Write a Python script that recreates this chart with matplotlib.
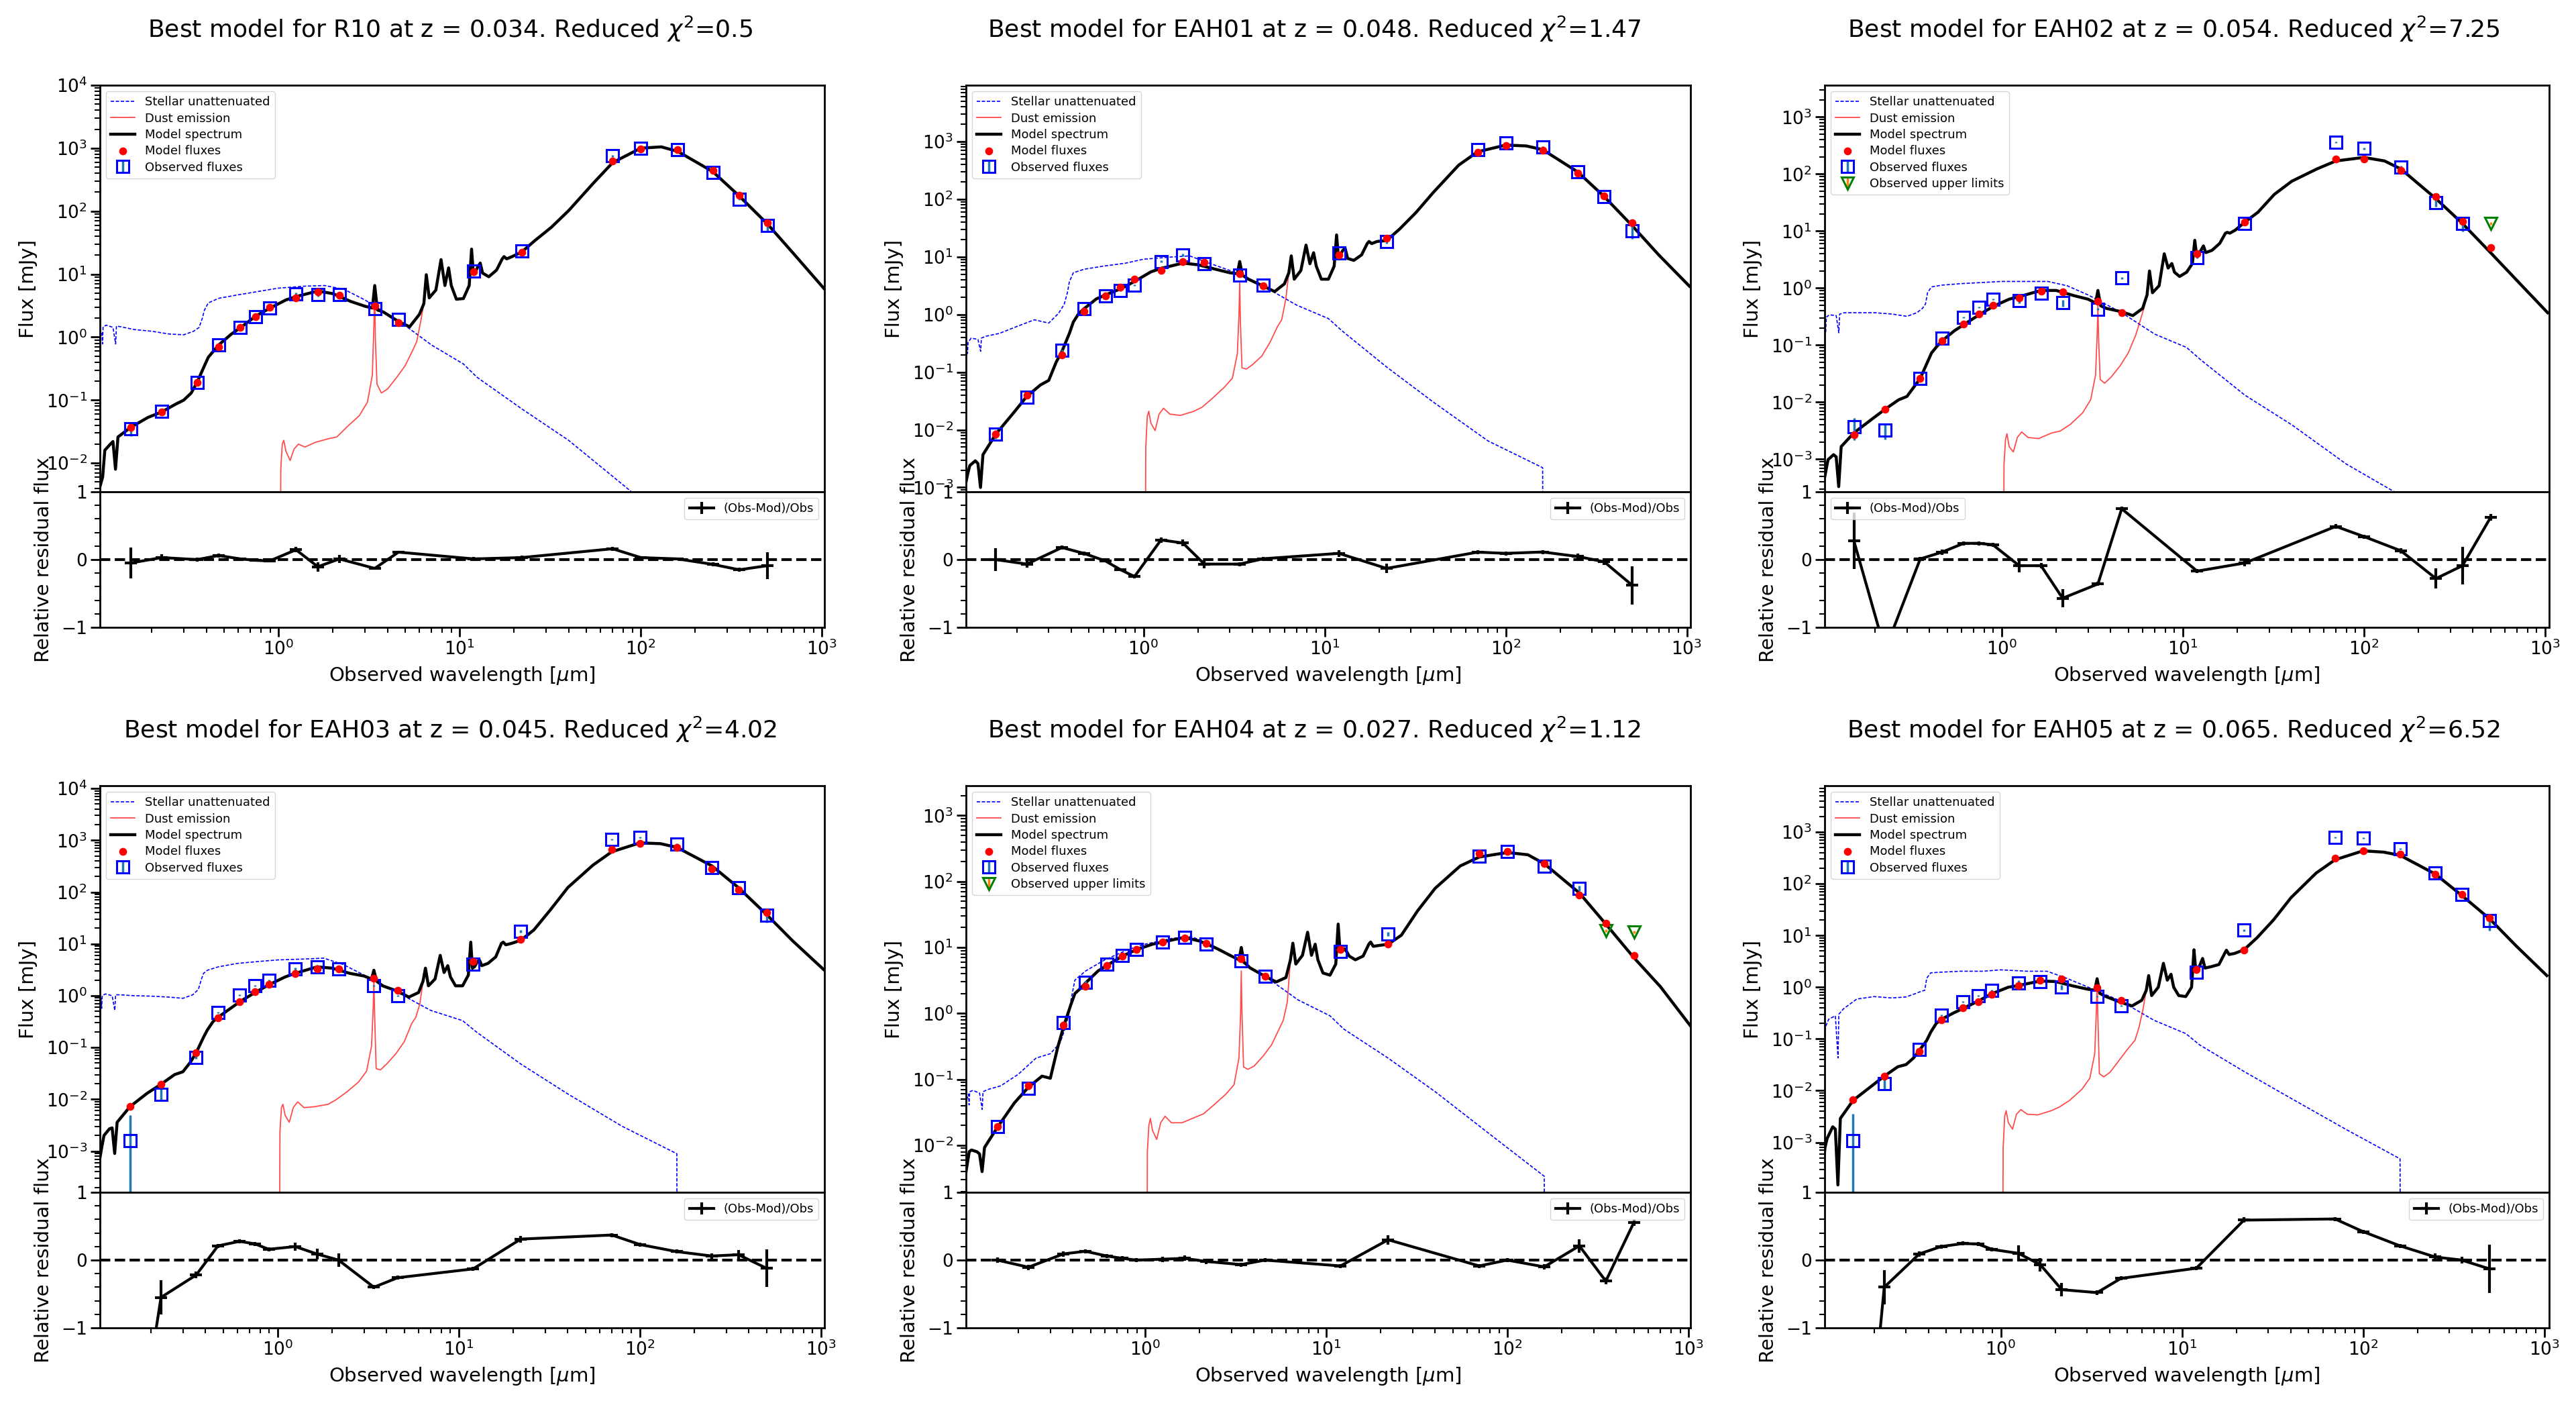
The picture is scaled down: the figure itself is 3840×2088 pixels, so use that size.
import numpy as np
import matplotlib.pyplot as plt
from matplotlib.ticker import AutoMinorLocator

# observed-frame filter wavelengths (micron)
FILTER_WL = [0.1528, 0.2271, 0.3551, 0.4686, 0.6166, 0.7480, 0.8932, 1.25, 1.65, 2.17,
             3.4, 4.6, 12.0, 22.0, 70.0, 100.0, 160.0, 250.0, 350.0, 500.0]

# wavelength grids of the model curves (micron)
MODEL_WL = [0.100, 0.107, 0.110, 0.118, 0.122, 0.126, 0.130, 0.153, 0.19, 0.227,
            0.27, 0.30, 0.33, 0.355, 0.39, 0.41, 0.44, 0.47, 0.55, 0.62,
            0.75, 0.90, 1.10, 1.25, 1.65, 2.0, 2.5, 3.0, 3.30, 3.40,
            3.52, 3.8, 4.6, 5.3, 6.0, 6.35, 6.55, 6.8, 7.4, 7.9,
            8.3, 8.7, 9.0, 9.6, 10.5, 11.3, 11.65, 11.9, 12.2, 12.6,
            13.0, 13.4, 14.5, 16.0, 17.2, 17.6, 18.2, 19.5, 22, 26,
            32, 40, 55, 70, 100, 130, 160, 250, 350, 500, 700, 1034]
STELLAR_WL = [0.100, 0.106, 0.1068, 0.1076, 0.112, 0.122, 0.1262, 0.1275, 0.135, 0.16,
              0.2, 0.25, 0.3, 0.34, 0.365, 0.38, 0.39, 0.41, 0.47, 0.6,
              0.8, 1.0, 1.4, 1.8, 2.3, 3.0, 4.6, 7.0, 10.5, 12.5,
              22, 40, 80, 160, 162]
DUST_WL = [1.02, 1.03, 1.05, 1.07, 1.10, 1.16, 1.22, 1.29, 1.40, 1.6,
           1.9, 2.1, 2.4, 2.8, 3.1, 3.3, 3.37, 3.40, 3.43, 3.5,
           3.7, 4.0, 4.5, 5.0, 5.5, 5.8, 6.1]
DUST_TAIL_START = 6.35  # beyond this the dust emission follows the model spectrum

NAMES = ['R10', 'EAH01', 'EAH02', 'EAH03', 'EAH04', 'EAH05']
REDSHIFTS = [0.034, 0.048, 0.054, 0.045, 0.027, 0.065]
CHI2 = [0.5, 1.47, 7.25, 4.02, 1.12, 6.52]

# ---- R10 ----
R10_OBS = [0.035, 0.067, 0.189, 0.745, 1.43, 2.09, 2.9, 4.9, 4.7, 4.7,
           2.8, 1.92, 11.1, 23.1, 752, 1000, 960, 410, 154, 60]
R10_RES = [-0.05, 0.03, 0.0, 0.06, 0.01, -0.01, -0.02, 0.145, -0.105, 0.01,
           -0.13, 0.11, 0.01, 0.03, 0.16, 0.03, 0.01, -0.07, -0.15, -0.09]
R10_ERR = [0.23, 0.05, 0.03, 0.03, 0.02, 0.02, 0.02, 0.04, 0.07, 0.06,
           0.02, 0.02, 0.03, 0.03, 0.03, 0.02, 0.02, 0.03, 0.03, 0.2]
R10_MODEL = [0.003, 0.006, 0.016, 0.020, 0.022, 0.008, 0.026, 0.037, 0.053, 0.065,
             0.086, 0.10, 0.13, 0.19, 0.35, 0.48, 0.61, 0.76, 1.12, 1.43,
             2.16, 2.9, 3.9, 4.4, 5.4, 4.9, 3.7, 3.1, 2.9, 6.6,
             2.7, 2.5, 1.77, 1.46, 2.3, 3.4, 9.8, 4.2, 5.6, 17,
             6.6, 12.6, 6.6, 4.0, 4.1, 6.6, 25, 10.7, 10.7, 13,
             15, 10.4, 9.1, 11.6, 17.5, 19, 17.5, 19, 22.4, 34,
             55, 102, 282, 590, 1000, 1050, 890, 425, 174, 63, 21, 5.8]
R10_STELLAR = [1.28, 1.18, 0.78, 1.46, 1.55, 1.43, 0.78, 1.5, 1.46, 1.32,
               1.24, 1.12, 1.09, 1.24, 1.43, 2.0, 2.67, 3.5, 4.15, 4.7,
               5.4, 6.0, 6.45, 6.6, 5.75, 3.9, 1.83, 0.75, 0.375, 0.23,
               0.073, 0.023, 0.0045, 0.00088, 1e-12]
R10_DUST = [1e-6, 0.008, 0.02, 0.023, 0.0154, 0.011, 0.0168, 0.02, 0.018, 0.0214,
            0.0245, 0.026, 0.038, 0.057, 0.093, 0.25, 1.77, 6.6, 0.92, 0.18,
            0.13, 0.15, 0.23, 0.35, 0.61, 0.85, 1.77]
R10_UPLIM = []

# ---- EAH01 ----
EAH01_OBS = [0.0084, 0.037, 0.24, 1.26, 2.08, 2.6, 3.26, 8.3, 10.8, 7.6,
             4.8, 3.2, 11.8, 18.5, 728, 950, 800, 297, 111, 28.5]
EAH01_RES = [0.0, -0.066, 0.178, 0.092, -0.02, -0.15, -0.25, 0.29, 0.245, -0.066,
             -0.066, 0.013, 0.092, -0.13, 0.11, 0.092, 0.112, 0.046, -0.033, -0.38]
EAH01_ERR = [0.17, 0.05, 0.03, 0.03, 0.02, 0.02, 0.03, 0.04, 0.05, 0.06,
             0.03, 0.03, 0.05, 0.07, 0.03, 0.03, 0.03, 0.04, 0.05, 0.28]
EAH01_MODEL = [0.0006, 0.0017, 0.0024, 0.0029, 0.0026, 0.001, 0.0037, 0.0084, 0.019, 0.038,
               0.06, 0.072, 0.15, 0.23, 0.47, 0.74, 1.05, 1.26, 1.87, 2.2,
               2.8, 3.8, 5.5, 6.3, 7.8, 7.3, 6.1, 5.3, 5.1, 8.3,
               4.8, 4.1, 3.1, 2.5, 3.4, 5.3, 10.4, 4.1, 5.8, 16,
               7.6, 11.8, 6.9, 4.1, 4.1, 6.9, 24, 10.8, 10.8, 12.9,
               14, 9.4, 8.7, 10.8, 17, 18.5, 17, 18.5, 19.2, 30.5,
               59, 133, 390, 665, 870, 840, 725, 297, 111, 34.6, 10.8, 3.1]
EAH01_STELLAR = [0.30, 0.275, 0.21, 0.33, 0.39, 0.37, 0.23, 0.39, 0.42, 0.47,
                 0.62, 0.81, 0.71, 1.05, 1.5, 2.36, 3.7, 5.3, 6.1, 6.9,
                 7.8, 9.1, 9.9, 10.4, 7.8, 5.8, 3.1, 1.46, 0.85, 0.52,
                 0.123, 0.030, 0.0064, 0.0022, 1e-12]
EAH01_DUST = [1e-6, 0.0049, 0.017, 0.021, 0.013, 0.0097, 0.0187, 0.0237, 0.0187, 0.0178,
              0.021, 0.0245, 0.035, 0.055, 0.079, 0.21, 1.05, 3.7, 0.74, 0.119,
              0.113, 0.135, 0.19, 0.33, 0.62, 0.81, 1.8]
EAH01_UPLIM = []

# ---- EAH02 ----
EAH02_OBS = [0.0037, 0.0032, 0.026, 0.133, 0.31, 0.46, 0.64, 0.61, 0.81, 0.55,
             0.43, 1.5, 3.4, 13.6, 362, 280, 134, 31.8, 13.6, 13.6]
EAH02_RES = [0.277, -1.34, 0.01, 0.11, 0.24, 0.24, 0.22, -0.09, -0.09, -0.57,
             -0.36, 0.75, -0.17, -0.05, 0.49, 0.34, 0.13, -0.28, -0.09, 0.62]
EAH02_ERR = [0.42, 0.3, 0.03, 0.04, 0.03, 0.03, 0.03, 0.1, 0.04, 0.13,
             0.03, 0.03, 0.03, 0.05, 0.03, 0.03, 0.04, 0.15, 0.28, 0.05]
EAH02_MODEL = [0.0002, 0.00062, 0.00098, 0.0012, 0.0011, 0.00033, 0.00166, 0.0029, 0.0049, 0.0075,
               0.011, 0.0126, 0.019, 0.026, 0.051, 0.073, 0.096, 0.12, 0.18, 0.23,
               0.34, 0.48, 0.64, 0.71, 0.91, 0.91, 0.74, 0.64, 0.55, 0.91,
               0.49, 0.44, 0.385, 0.33, 0.44, 0.76, 2.0, 0.83, 1.1, 4.0,
               2.25, 2.7, 1.9, 1.6, 1.9, 2.7, 6.9, 3.9, 4.0, 4.6,
               5.5, 4.2, 4.6, 6.1, 9.2, 9.5, 9.2, 10.4, 14.4, 21.4,
               44, 75, 123, 170, 196, 170, 123, 37, 13.6, 4.2, 1.36, 0.37]
EAH02_STELLAR = [0.18, 0.197, 0.165, 0.31, 0.34, 0.33, 0.165, 0.35, 0.37, 0.37,
                 0.37, 0.35, 0.32, 0.37, 0.44, 0.53, 0.84, 1.05, 1.13, 1.2,
                 1.26, 1.31, 1.31, 1.31, 1.1, 0.76, 0.37, 0.156, 0.091, 0.056,
                 0.0133, 0.004, 0.00082, 0.00023, 1e-12]
EAH02_DUST = [1e-7, 0.0008, 0.0022, 0.0028, 0.00166, 0.00134, 0.0024, 0.003, 0.0024, 0.0023,
              0.0029, 0.0031, 0.0041, 0.0065, 0.011, 0.03, 0.165, 0.53, 0.126, 0.025,
              0.0215, 0.027, 0.043, 0.073, 0.15, 0.26, 0.44]
EAH02_UPLIM = [19]

# ---- EAH03 ----
EAH03_OBS = [0.0016, 0.0126, 0.064, 0.47, 1.04, 1.55, 1.96, 3.3, 3.6, 3.3,
             1.55, 1.0, 4.0, 17.5, 1050, 1130, 840, 300, 122, 36]
EAH03_RES = [-3.5, -0.55, -0.22, 0.21, 0.277, 0.24, 0.16, 0.2, 0.09, 0.0,
             -0.40, -0.26, -0.13, 0.31, 0.37, 0.23, 0.125, 0.06, 0.08, -0.12]
EAH03_ERR = [2.06, 0.25, 0.05, 0.03, 0.03, 0.03, 0.03, 0.06, 0.08, 0.1,
             0.03, 0.03, 0.03, 0.05, 0.03, 0.03, 0.03, 0.04, 0.07, 0.28]
EAH03_MODEL = [0.0003, 0.0012, 0.002, 0.0027, 0.0028, 0.0009, 0.0036, 0.0072, 0.013, 0.0195,
               0.030, 0.034, 0.052, 0.079, 0.158, 0.22, 0.316, 0.385, 0.57, 0.77,
               1.15, 1.64, 2.3, 2.7, 3.6, 3.4, 2.7, 2.4, 2.1, 3.1,
               1.9, 1.55, 1.22, 0.94, 1.15, 1.9, 3.4, 1.55, 2.1, 6.0,
               2.8, 3.8, 2.3, 1.55, 1.55, 2.5, 10.8, 3.4, 3.6, 4.35,
               4.9, 3.8, 4.2, 5.6, 10.2, 10.8, 9.6, 10.2, 11.7, 18.6,
               45, 122, 330, 600, 890, 860, 730, 320, 122, 37, 11.3, 3.2]
EAH03_STELLAR = [0.57, 0.89, 0.57, 1.0, 1.08, 1.0, 0.52, 1.04, 1.04, 1.0,
                 0.98, 0.94, 0.89, 1.04, 1.32, 2.1, 2.7, 3.1, 3.6, 4.2,
                 4.6, 4.9, 5.1, 5.3, 4.0, 2.5, 1.15, 0.52, 0.33, 0.2,
                 0.048, 0.0127, 0.003, 0.00089, 1e-12]
EAH03_DUST = [1e-7, 0.0024, 0.0069, 0.008, 0.0049, 0.0036, 0.0069, 0.0089, 0.0069, 0.0072,
              0.008, 0.0098, 0.0137, 0.0216, 0.035, 0.106, 0.57, 2.1, 0.47, 0.039,
              0.037, 0.048, 0.076, 0.129, 0.29, 0.385, 0.7]
EAH03_UPLIM = []

# ---- EAH04 ----
EAH04_OBS = [0.0194, 0.073, 0.73, 2.98, 5.6, 7.6, 9.3, 12.1, 14.2, 11.2,
             6.3, 3.65, 8.6, 16, 243, 283, 172, 79, 17.9, 17.1]
EAH04_RES = [0.0, -0.105, 0.092, 0.13, 0.06, 0.026, 0.0, 0.013, 0.026, -0.02,
             -0.066, 0.0, -0.086, 0.30, -0.086, 0.0, -0.1, 0.21, -0.31, 0.555]
EAH04_ERR = [0.04, 0.04, 0.04, 0.03, 0.03, 0.03, 0.03, 0.04, 0.04, 0.04,
             0.03, 0.03, 0.03, 0.07, 0.03, 0.03, 0.04, 0.1, 0.05, 0.05]
EAH04_MODEL = [0.0025, 0.008, 0.0085, 0.008, 0.0074, 0.004, 0.0093, 0.0187, 0.044, 0.076,
               0.112, 0.104, 0.31, 0.63, 1.37, 2.0, 2.4, 2.9, 4.4, 5.4,
               7.4, 9.3, 11.2, 12.1, 14.2, 12.5, 9.6, 7.4, 6.5, 10,
               6.0, 4.9, 3.65, 3.0, 3.5, 6.5, 11.6, 5.6, 7.6, 17,
               7.6, 11.2, 6.5, 4.1, 3.8, 5.6, 22.6, 9.6, 8.9, 9.6,
               8.6, 7.4, 6.5, 7.4, 11.2, 12.1, 10.4, 10.7, 11.2, 15.3,
               36, 79, 172, 235, 275, 254, 186, 67, 22.6, 7.0, 2.55, 0.63]
EAH04_STELLAR = [0.035, 0.06, 0.041, 0.065, 0.068, 0.062, 0.035, 0.065, 0.07, 0.08,
                 0.12, 0.21, 0.245, 0.36, 0.63, 1.0, 1.6, 3.2, 4.4, 6.5,
                 9.2, 11.2, 13.7, 14.6, 11.2, 7.4, 3.65, 1.6, 0.92, 0.58,
                 0.21, 0.065, 0.0148, 0.0034, 1e-12]
EAH04_DUST = [1e-6, 0.008, 0.02, 0.0256, 0.0168, 0.0123, 0.022, 0.0276, 0.022, 0.022,
              0.0268, 0.03, 0.041, 0.06, 0.083, 0.21, 1.0, 4.4, 1.0, 0.154,
              0.142, 0.159, 0.227, 0.336, 0.58, 0.79, 1.48]
EAH04_UPLIM = [18, 19]

# ---- EAH05 ----
EAH05_OBS = [0.00108, 0.0135, 0.063, 0.29, 0.53, 0.69, 0.87, 1.2, 1.29, 1.0,
             0.66, 0.44, 1.96, 12.7, 790, 760, 480, 161, 62, 19.3]
EAH05_RES = [-5.2, -0.40, 0.092, 0.20, 0.244, 0.238, 0.158, 0.1, -0.066, -0.436,
             -0.48, -0.27, -0.12, 0.59, 0.607, 0.42, 0.21, 0.046, 0.0, -0.13]
EAH05_ERR = [2.3, 0.25, 0.04, 0.03, 0.03, 0.03, 0.03, 0.12, 0.1, 0.1,
             0.03, 0.03, 0.03, 0.04, 0.03, 0.03, 0.03, 0.05, 0.05, 0.36]
EAH05_MODEL = [0.00008, 0.0008, 0.0012, 0.002, 0.0018, 0.00015, 0.0029, 0.0065, 0.0117, 0.019,
               0.029, 0.032, 0.043, 0.06, 0.094, 0.135, 0.2, 0.24, 0.32, 0.39,
               0.54, 0.76, 1.0, 1.08, 1.32, 1.29, 1.06, 0.92, 0.87, 1.46,
               0.76, 0.66, 0.51, 0.435, 0.56, 0.87, 1.68, 0.69, 1.0, 2.9,
               1.37, 1.78, 1.0, 0.69, 0.66, 1.0, 5.3, 2.25, 2.04, 2.75,
               3.6, 2.35, 2.5, 2.75, 4.5, 5.2, 4.3, 4.5, 5.3, 9.1,
               20, 54, 161, 292, 435, 410, 356, 155, 60, 21, 6.3, 1.68]
EAH05_STELLAR = [0.03, 0.094, 0.043, 0.17, 0.24, 0.28, 0.043, 0.30, 0.38, 0.59,
                 0.66, 0.62, 0.65, 0.76, 0.84, 0.87, 1.5, 1.9, 1.96, 2.04,
                 2.04, 2.17, 2.04, 2.04, 1.5, 1.02, 0.54, 0.23, 0.127, 0.077,
                 0.0235, 0.0071, 0.0018, 0.00048, 1e-12]
EAH05_DUST = [1e-7, 0.0008, 0.0032, 0.0041, 0.0024, 0.0018, 0.0035, 0.0043, 0.0035, 0.0034,
              0.0041, 0.0048, 0.0065, 0.0106, 0.0174, 0.052, 0.38, 1.5, 0.31, 0.0213,
              0.0185, 0.0225, 0.0386, 0.063, 0.094, 0.17, 0.38]
EAH05_UPLIM = []

PANELS = [
    (R10_OBS, R10_RES, R10_ERR, R10_MODEL, R10_STELLAR, R10_DUST, R10_UPLIM, 'upper right'),
    (EAH01_OBS, EAH01_RES, EAH01_ERR, EAH01_MODEL, EAH01_STELLAR, EAH01_DUST, EAH01_UPLIM, 'upper right'),
    (EAH02_OBS, EAH02_RES, EAH02_ERR, EAH02_MODEL, EAH02_STELLAR, EAH02_DUST, EAH02_UPLIM, 'upper left'),
    (EAH03_OBS, EAH03_RES, EAH03_ERR, EAH03_MODEL, EAH03_STELLAR, EAH03_DUST, EAH03_UPLIM, 'upper right'),
    (EAH04_OBS, EAH04_RES, EAH04_ERR, EAH04_MODEL, EAH04_STELLAR, EAH04_DUST, EAH04_UPLIM, 'upper right'),
    (EAH05_OBS, EAH05_RES, EAH05_ERR, EAH05_MODEL, EAH05_STELLAR, EAH05_DUST, EAH05_UPLIM, 'upper right'),
]

# layout in pixels of the 3840x2088 canvas
W, H = 3840, 2088
COL_LEFT = [149, 1440, 2720]
AX_W = 1080
ROW_TOP = [127, 1171]
UPPER_H = 606
RESID_H = 202
TITLE_X = [671, 1959, 3240]
TITLE_Y = [43, 1087]

plt.rcParams.update({
    'font.family': 'DejaVu Sans',
    'mathtext.fontset': 'dejavusans',
    'axes.linewidth': 2.0,
})


def draw_panel(fig, k):
    col, row = k % 3, k // 3
    obs, res, err, model, stellar, dust, uplim, res_loc = PANELS[k]
    z = REDSHIFTS[k]

    wl = np.array(FILTER_WL)
    obs = np.array(obs)
    res = np.array(res)
    err = np.array(err)
    mod = obs * (1 - res)
    up = np.zeros(len(wl), dtype=bool)
    up[uplim] = True
    ok = ~up

    mwl = np.array(MODEL_WL)
    model = np.array(model)
    tail = mwl >= DUST_TAIL_START
    dust_wl = np.concatenate([DUST_WL, mwl[tail]])
    dust_fl = np.concatenate([dust, model[tail]])

    left = COL_LEFT[col] / W
    width = AX_W / W
    top = ROW_TOP[row]
    ax1 = fig.add_axes([left, 1 - (top + UPPER_H) / H, width, UPPER_H / H])
    ax2 = fig.add_axes([left, 1 - (top + UPPER_H + RESID_H) / H, width, RESID_H / H])

    ax1.plot(STELLAR_WL, stellar, color='b', ls='--', dashes=(3, 1.5), lw=1.2,
             label='Stellar unattenuated')
    ax1.plot(dust_wl, dust_fl, color='r', lw=1.3, alpha=0.7, label='Dust emission')
    ax1.plot(mwl, model, color='k', lw=3.2, label='Model spectrum')
    ax1.set_xscale('log')
    ax1.set_yscale('log')
    ax1.scatter(wl, mod, marker='o', color='r', s=55, zorder=3, label='Model fluxes')
    ax1.errorbar(wl[ok], obs[ok], yerr=err[ok] * obs[ok], ls='', marker='s', ms=13,
                 mfc='none', mec='b', mew=2.2, ecolor='C0', elinewidth=2.5, capsize=0,
                 label='Observed fluxes')
    if up.any():
        ax1.errorbar(wl[up], obs[up], yerr=err[up] * obs[up], ls='', marker='v', ms=13,
                     mfc='none', mec='g', mew=2.2, ecolor='C1', elinewidth=2.5, capsize=0,
                     label='Observed upper limits')

    xmin, xmax = 0.1 * (1 + z), 1000 * (1 + z)
    ymin = min(obs[ok].min(), mod[ok].min())
    ymax = max(obs[ok].max(), mod[ok].max())
    ax1.set_xlim(xmin, xmax)
    ax1.set_ylim(0.1 * ymin, 10 * ymax)

    ax2.errorbar(wl, res, yerr=err, marker='_', color='k', lw=3, ms=13, mew=3,
                 elinewidth=3, capsize=0, label='(Obs-Mod)/Obs')
    ax2.plot([xmin, xmax], [0, 0], ls='--', color='k', lw=3)
    ax2.set_xscale('log')
    ax2.set_xlim(xmin, xmax)
    ax2.set_ylim(-1, 1)
    ax2.set_yticks([-1, 0, 1])
    ax2.yaxis.set_minor_locator(AutoMinorLocator(5))

    ax1.tick_params(axis='x', which='both', bottom=False, labelbottom=False)
    for ax in (ax1, ax2):
        ax.tick_params(which='major', direction='out', length=10, width=2, labelsize=19)
        ax.tick_params(which='minor', direction='out', length=5.5, width=1.5)

    ax1.set_ylabel('Flux [mJy]', fontsize=21, labelpad=9)
    ax2.set_ylabel('Relative residual flux', fontsize=21, labelpad=9)
    ax2.set_xlabel(r'Observed wavelength [$\mu$m]', fontsize=21, labelpad=6)

    ax1.legend(loc='upper left', fontsize=13, labelspacing=0.35, borderpad=0.4)
    ax2.legend(loc=res_loc, fontsize=13, borderpad=0.4)

    fig.text(TITLE_X[col] / W, 1 - TITLE_Y[row] / H,
             f'Best model for {NAMES[k]} at z = {z}. Reduced $\\chi^2$={CHI2[k]}',
             ha='center', va='center', fontsize=26)


fig = plt.figure(figsize=(W / 100, H / 100), dpi=100)
for k in range(len(PANELS)):
    draw_panel(fig, k)

fig.savefig('out.png', dpi=100, facecolor='white')
